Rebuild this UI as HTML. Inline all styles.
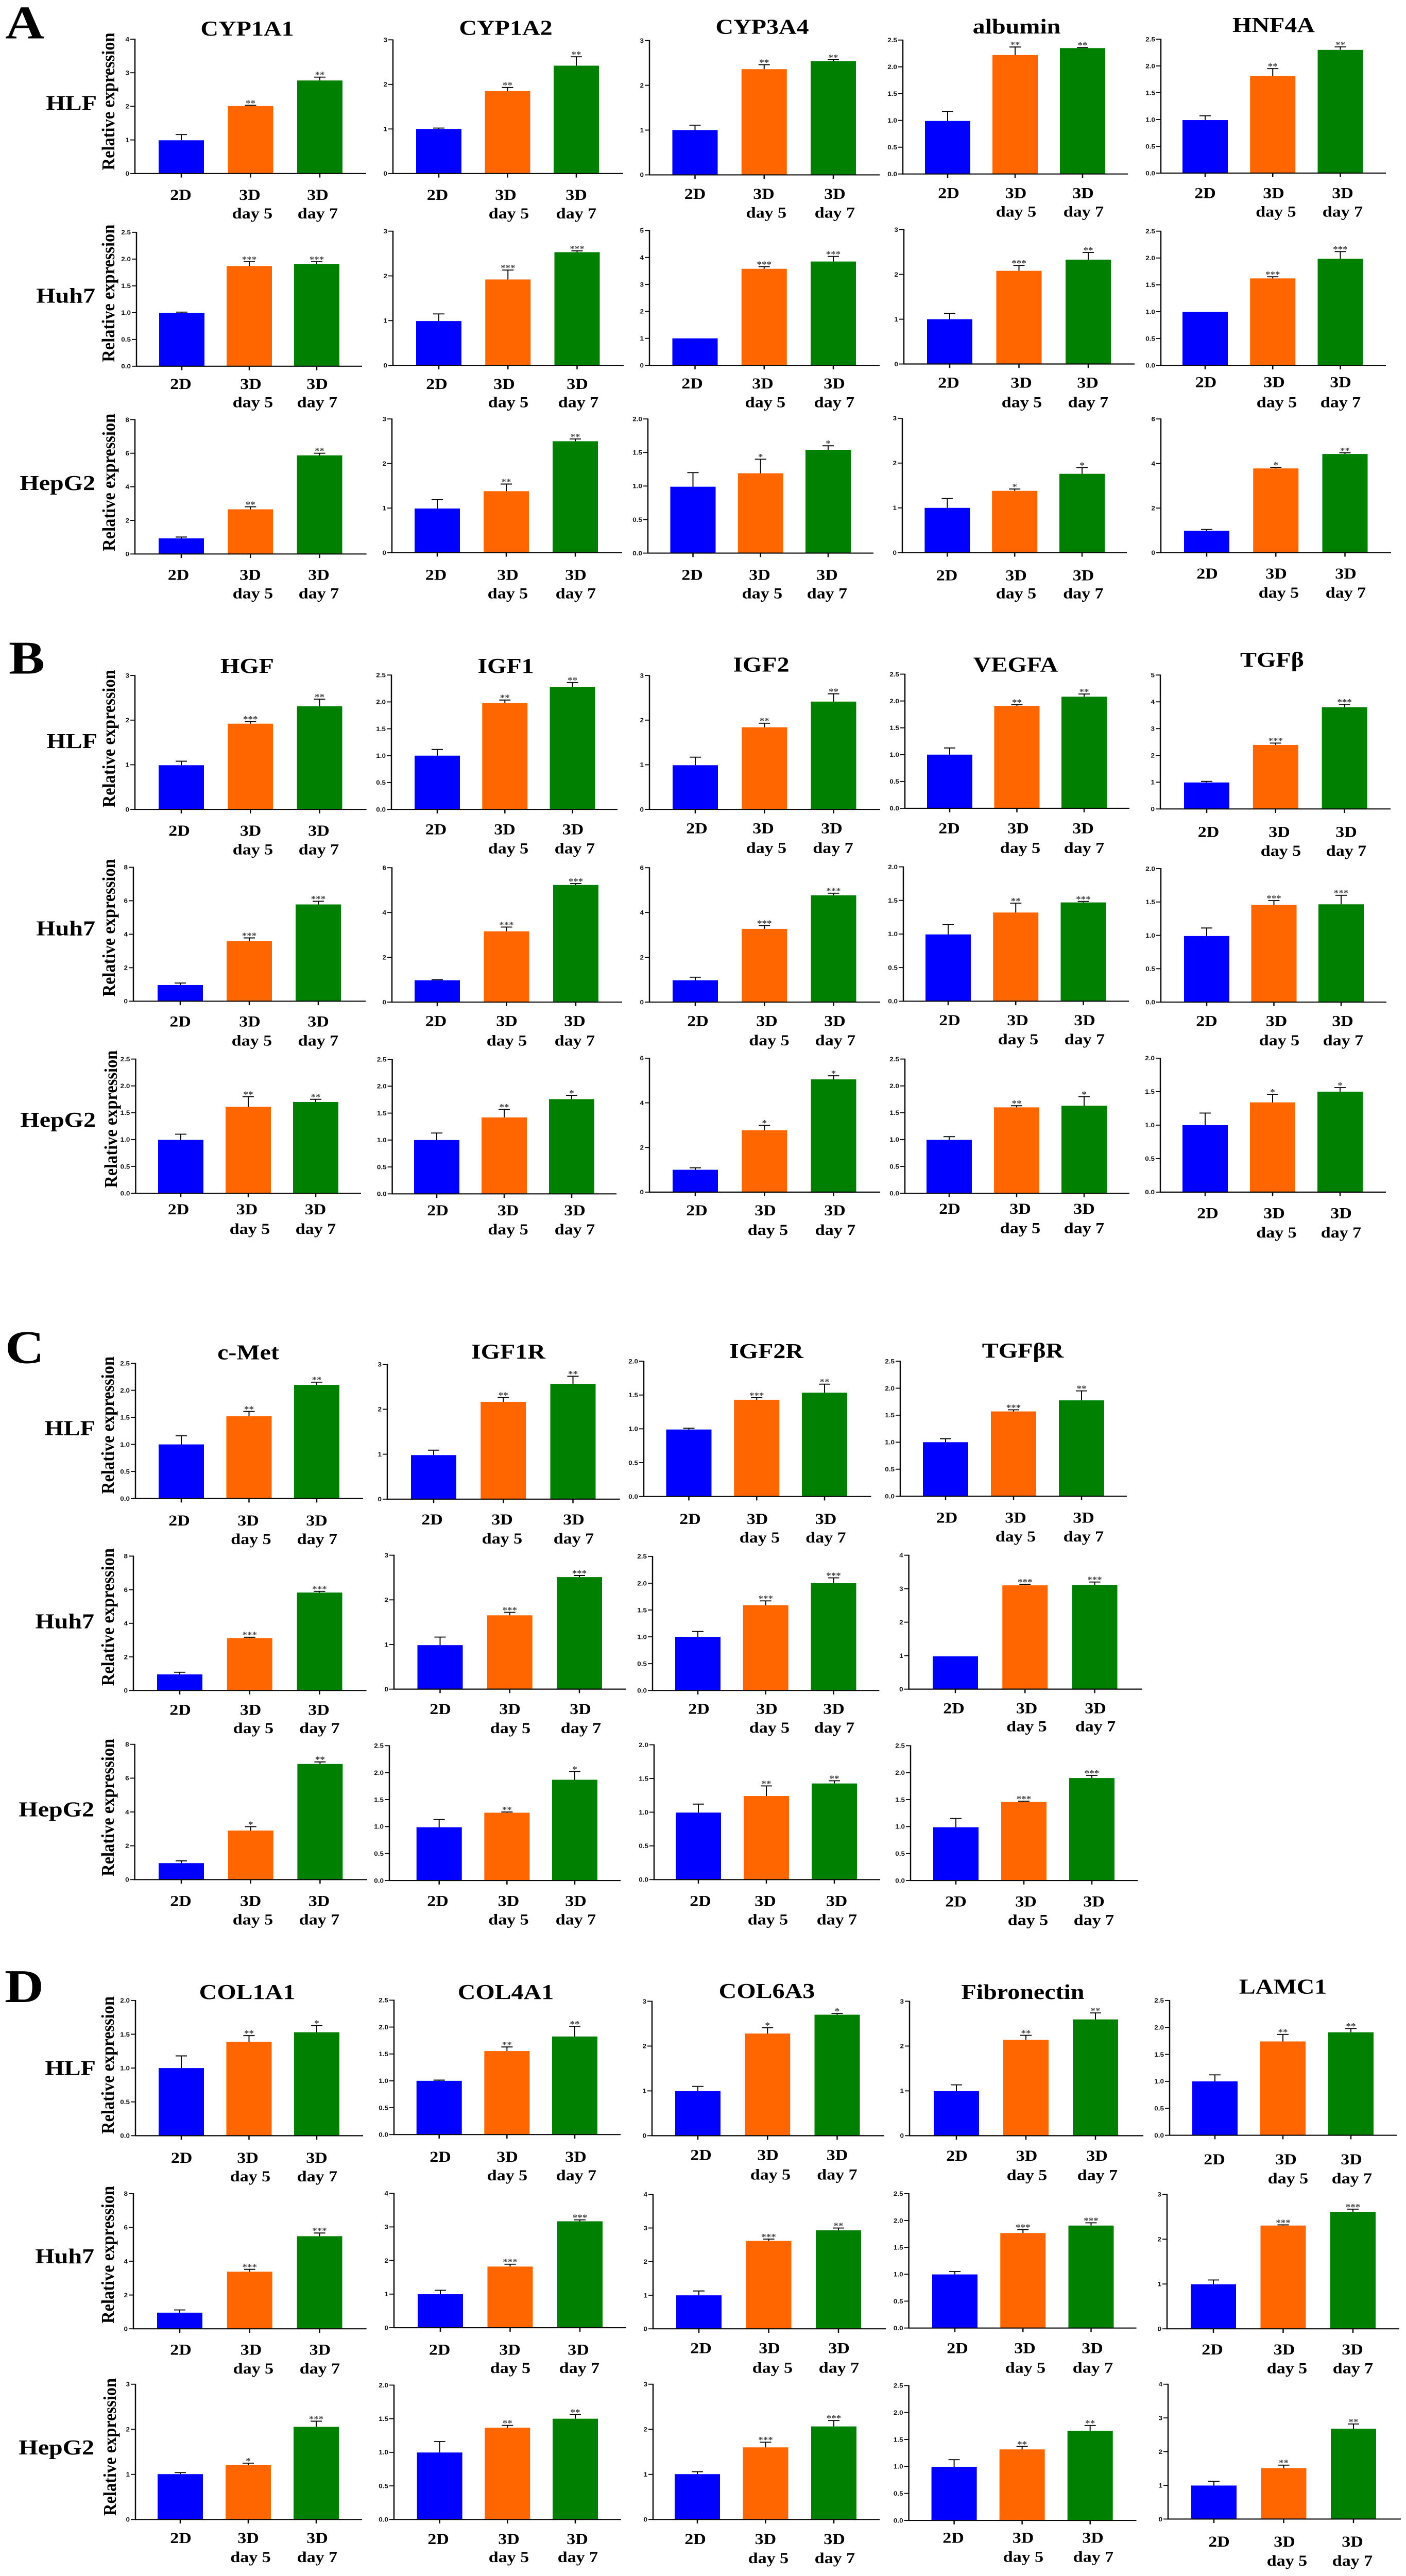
<!DOCTYPE html>
<html lang="en">
<head>
<meta charset="utf-8">
<title>Relative expression in HLF, Huh7 and HepG2 cells</title>
<!-- The SVG fills the viewport instead of using a fixed 5789px height. At a 2730x5789 viewport the coordinates are
     exact. The observed render viewport was about 5000px tall, which clipped a fixed layout, so here the figure
     is squeezed vertically to fit. -->
<style>
  html, body { margin: 0; padding: 0; background: #fff; width: 100%; height: 100%; overflow: hidden; }
  #figure { display: block; width: 100vw; height: 100vh; overflow: hidden; }
  .serif { font-family: "Liberation Serif", serif; font-weight: bold; fill: #000; }
  .letter { font-size: 105px; }
  .gene { font-size: 48px; text-anchor: middle; }
  .cell { font-size: 48px; text-anchor: end; }
  .ytitle { font-size: 35px; text-anchor: middle; }
</style>
</head>
<body>
<svg id="figure" xmlns="http://www.w3.org/2000/svg" viewBox="0 0 2730 5789" preserveAspectRatio="none">
  <rect x="0" y="0" width="2730" height="5789" fill="#fff"/>

  <text class="serif letter" x="10" y="86">A</text>
  <text class="serif letter" x="17" y="1514">B</text>
  <text class="serif letter" x="10" y="3063">C</text>
  <text class="serif letter" x="9" y="4499">D</text>

  <text class="serif gene" x="480" y="80">CYP1A1</text>
  <text class="serif gene" x="982" y="78">CYP1A2</text>
  <text class="serif gene" x="1480" y="76">CYP3A4</text>
  <text class="serif gene" x="1974" y="75">albumin</text>
  <text class="serif gene" x="2473" y="72">HNF4A</text>

  <text class="serif gene" x="480" y="1512">HGF</text>
  <text class="serif gene" x="982" y="1512">IGF1</text>
  <text class="serif gene" x="1478" y="1509">IGF2</text>
  <text class="serif gene" x="1972" y="1509">VEGFA</text>
  <text class="serif gene" x="2470" y="1498">TGFβ</text>

  <text class="serif gene" x="482" y="3055">c-Met</text>
  <text class="serif gene" x="987" y="3053">IGF1R</text>
  <text class="serif gene" x="1488" y="3052">IGF2R</text>
  <text class="serif gene" x="1986" y="3051">TGFβR</text>

  <text class="serif gene" x="480" y="4492">COL1A1</text>
  <text class="serif gene" x="982" y="4492">COL4A1</text>
  <text class="serif gene" x="1489" y="4490">COL6A3</text>
  <text class="serif gene" x="1986" y="4492">Fibronectin</text>
  <text class="serif gene" x="2491" y="4480">LAMC1</text>

  <text class="serif cell" x="188" y="247">HLF</text>
  <text class="serif cell" x="185" y="680">Huh7</text>
  <text class="serif cell" x="185" y="1101">HepG2</text>
  <text class="serif cell" x="189" y="1681">HLF</text>
  <text class="serif cell" x="185" y="2102">Huh7</text>
  <text class="serif cell" x="186" y="2532">HepG2</text>
  <text class="serif cell" x="185" y="3225">HLF</text>
  <text class="serif cell" x="183" y="3659">Huh7</text>
  <text class="serif cell" x="183" y="4082">HepG2</text>
  <text class="serif cell" x="186" y="4663">HLF</text>
  <text class="serif cell" x="183" y="5086">Huh7</text>
  <text class="serif cell" x="183" y="5516">HepG2</text>

  <text class="serif ytitle" transform="translate(222 228) rotate(-90)" textLength="309" lengthAdjust="spacingAndGlyphs">Relative expression</text>
  <text class="serif ytitle" transform="translate(222 659) rotate(-90)" textLength="309" lengthAdjust="spacingAndGlyphs">Relative expression</text>
  <text class="serif ytitle" transform="translate(223 1084) rotate(-90)" textLength="309" lengthAdjust="spacingAndGlyphs">Relative expression</text>
  <text class="serif ytitle" transform="translate(223 1660) rotate(-90)" textLength="309" lengthAdjust="spacingAndGlyphs">Relative expression</text>
  <text class="serif ytitle" transform="translate(223 2085) rotate(-90)" textLength="309" lengthAdjust="spacingAndGlyphs">Relative expression</text>
  <text class="serif ytitle" transform="translate(227 2515) rotate(-90)" textLength="309" lengthAdjust="spacingAndGlyphs">Relative expression</text>
  <text class="serif ytitle" transform="translate(221 3203) rotate(-90)" textLength="309" lengthAdjust="spacingAndGlyphs">Relative expression</text>
  <text class="serif ytitle" transform="translate(221 3634) rotate(-90)" textLength="309" lengthAdjust="spacingAndGlyphs">Relative expression</text>
  <text class="serif ytitle" transform="translate(221 4062) rotate(-90)" textLength="309" lengthAdjust="spacingAndGlyphs">Relative expression</text>
  <text class="serif ytitle" transform="translate(221 4641) rotate(-90)" textLength="309" lengthAdjust="spacingAndGlyphs">Relative expression</text>
  <text class="serif ytitle" transform="translate(221 5067) rotate(-90)" textLength="309" lengthAdjust="spacingAndGlyphs">Relative expression</text>
  <text class="serif ytitle" transform="translate(225 5499) rotate(-90)" textLength="309" lengthAdjust="spacingAndGlyphs">Relative expression</text>

  <g id="panels"></g>
</svg>

<script>
// ---- Data: one entry per panel, read left to right, top to bottom ----
const categoryLine1 = ['2D', '3D', '3D'];
const categoryLine2 = ['', 'day 5', 'day 7'];
const seriesColors = ['#0000ff', '#ff6600', '#008000'];

const panelGenes = [
  'CYP1A1','CYP1A2','CYP3A4','albumin','HNF4A',
  'CYP1A1','CYP1A2','CYP3A4','albumin','HNF4A',
  'CYP1A1','CYP1A2','CYP3A4','albumin','HNF4A',
  'HGF','IGF1','IGF2','VEGFA','TGFb',
  'HGF','IGF1','IGF2','VEGFA','TGFb',
  'HGF','IGF1','IGF2','VEGFA','TGFb',
  'c-Met','IGF1R','IGF2R','TGFbR',
  'c-Met','IGF1R','IGF2R','TGFbR',
  'c-Met','IGF1R','IGF2R','TGFbR',
  'COL1A1','COL4A1','COL6A3','Fibronectin','LAMC1',
  'COL1A1','COL4A1','COL6A3','Fibronectin','LAMC1',
  'COL1A1','COL4A1','COL6A3','Fibronectin','LAMC1'
];

const panelMeans = [
  [.99,2.01,2.77],[1.0,1.85,2.42],[1.0,2.36,2.54],[.99,2.22,2.35],[.99,1.81,2.30],
  [.995,1.87,1.91],[.99,1.92,2.53],[1.0,3.58,3.85],[1.0,2.08,2.33],[.995,1.62,1.985],
  [.93,2.66,5.87],[.99,1.38,2.5],[.99,1.19,1.54],[1.0,1.38,1.76],[.98,3.78,4.43],
  [.99,1.92,2.31],[1.0,1.98,2.28],[.99,1.84,2.415],[1.0,1.91,2.08],[.99,2.39,3.8],
  [.966,3.61,5.78],[.975,3.16,5.23],[.975,3.27,4.77],[.994,1.32,1.47],[.99,1.456,1.465],
  [.994,1.61,1.70],[1.0,1.42,1.76],[1.0,2.77,5.05],[.994,1.6,1.63],[1.0,1.34,1.5],
  [1.0,1.52,2.1],[.98,2.165,2.565],[.99,1.43,1.535],[1.0,1.57,1.775],
  [.957,3.12,5.83],[.986,1.654,2.51],[1.0,1.59,2.0],[.98,3.1,3.11],
  [.975,2.9,6.84],[.987,1.257,1.868],[.994,1.24,1.426],[.987,1.456,1.9],
  [1.0,1.39,1.53],[1.0,1.554,1.825],[.994,2.28,2.7],[.994,2.14,2.595],[1.0,1.74,1.91],
  [.956,3.38,5.48],[.997,1.82,3.167],[.997,2.616,2.93],[.997,1.767,1.906],[.994,2.305,2.61],
  [1.006,1.207,2.055],[.997,1.367,1.5],[1.006,1.6,2.064],[.994,1.316,1.66],[.994,1.51,2.68]
];

const panelErrors = [
  [.17,.02,.10],[.02,.08,.20],[.11,.10,.03],[.18,.15,.01],[.08,.14,.055],
  [.015,.08,.04],[.16,.21,.03],[0,.08,.19],[.13,.12,.16],[0,.03,.135],
  [.08,.15,.13],[.2,.16,.05],[.21,.21,.06],[.21,.04,.14],[.06,.05,.05],
  [.09,.05,.16],[.115,.055,.08],[.18,.09,.175],[.125,.02,.05],[.04,.07,.11],
  [.12,.17,.19],[.025,.19,.06],[.135,.15,.09],[.15,.14,.015],[.12,.065,.135],
  [.106,.19,.05],[.13,.15,.07],[.09,.22,.16],[.06,.03,.17],[.18,.12,.06],
  [.16,.09,.05],[.11,.095,.17],[.02,.03,.125],[.065,.03,.175],
  [.13,.05,.07],[.18,.066,.036],[.1,.08,.1],[0,.03,.09],
  [.135,.23,.12],[.143,.013,.152],[.126,.15,.04],[.163,.014,.05],
  [.18,.09,.1],[.013,.076,.19],[.106,.13,.03],[.14,.1,.145],[.12,.13,.07],
  [.16,.14,.19],[.117,.07,.043],[.129,.054,.07],[.053,.063,.051],[.096,.015,.06],
  [.034,.043,.125],[.163,.033,.06],[.054,.114,.131],[.132,.054,.1],[.126,.09,.14]
];

const panelStars = [
  ['**','**'],['**','**'],['**','**'],['**','**'],['**','**'],
  ['***','***'],['***','***'],['***','***'],['***','**'],['***','***'],
  ['**','**'],['**','**'],['*','*'],['*','*'],['*','**'],
  ['***','**'],['**','**'],['**','**'],['**','**'],['***','***'],
  ['***','***'],['***','***'],['***','***'],['**','***'],['***','***'],
  ['**','**'],['**','*'],['*','*'],['**','*'],['*','*'],
  ['**','**'],['**','**'],['***','**'],['***','**'],
  ['***','***'],['***','***'],['***','***'],['***','***'],
  ['*','**'],['**','*'],['**','**'],['***','***'],
  ['**','*'],['**','**'],['*','*'],['**','**'],['**','**'],
  ['***','***'],['***','***'],['***','**'],['***','***'],['***','***'],
  ['*','***'],['**','**'],['***','***'],['**','**'],['**','**']
];

const panelYMax = [
  4,3,3,2.5,2.5,
  2.5,3,5,3,2.5,
  8,3,2,3,6,
  3,2.5,3,2.5,5,
  8,6,6,2,2,
  2.5,2.5,6,2.5,2,
  2.5,3,2,2.5,
  8,3,2.5,4,
  8,2.5,2,2.5,
  2,2.5,3,3,2.5,
  8,4,4,2.5,3,
  3,2,3,2.5,4
];

const panelYStep = [
  1,1,1,.5,.5,
  .5,1,1,1,.5,
  2,1,.5,1,2,
  1,.5,1,.5,1,
  2,2,2,.5,.5,
  .5,.5,2,.5,.5,
  .5,1,.5,.5,
  2,1,.5,1,
  2,.5,.5,.5,
  .5,.5,1,1,.5,
  2,1,1,.5,1,
  1,.5,1,.5,1
];

// ---- Layout: plot frames [axisX, top, baseline, rightEnd, firstBandCentre, lastBandCentre] ----
const panelFrames = [
  [262,88,390,711,352,621],[763,89.5,390,1210,852,1119],[1261,91,393,1708,1349.5,1618],[1753,90,391,2190,1840,2102],[2254,88,389,2691,2340,2602.5],
  [265,522,823,703,353,615],[763,519.5,821,1211,852,1120.5],[1261,518,821,1708,1349.5,1618],[1755,516,818,2203,1844,2113],[2254,519.5,821,2691,2340,2602.5],
  [262,943,1245,711.6,352,620.5],[761,941.5,1242,1208,849,1117],[1258,941.5,1243,1696,1345.5,1608],[1752,940,1242,2188,1839.4,2101],[2254,941.5,1242,2701,2343,2611.5],
  [262,1518,1819,711.6,352,620.5],[760,1517,1819,1199,849,1111.6],[1261,1518,1819,1709,1350,1618.5],[1757,1515,1816.5,2193,1844,2105],[2253,1517,1818,2700,2343,2610.6],
  [259,1949,2250,710,350,618],[761,1950,2252,1208,849,1118],[1261,1950,2252,1709,1350,1618.5],[1754,1948,2250,2192,1841,2103.5],[2254,1952,2252,2692,2343,2604],
  [263.4,2380,2681.5,701,351,613],[761.6,2380.5,2683,1197,848,1110],[1261,2378,2679,1709,1350,1618.5],[1757,2380,2681.5,2193,1843,2105],[2253,2378,2679,2691,2340,2602],
  [263,3063.6,3367.6,705,352,615],[752,3066,3369,1203.6,842,1112.5],[1250,3059,3363,1691.5,1337.5,1601],[1748,3059,3362.4,2188,1836,2100],
  [259,3497,3799,711.6,349,620.5],[765,3495,3796,1216,854.5,1125],[1267,3497.6,3799,1707.4,1355,1618.5],[1764.6,3495,3796,2217,1855,2125.5],
  [261.6,3920,4224,713,352,621.4],[756,3923,4226,1205,852.7,1116],[1270,3921,4224,1709,1356,1620],[1768,3923,4226,2209,1856,2120],
  [263,4495.6,4799.5,705,352,615],[765,4495,4797,1205,852.7,1116],[1266,4497.4,4799.5,1717,1355,1625.5],[1766,4497.4,4799.5,2220,1857,2127],[2271,4495.6,4798.6,2712,2359,2623],
  [259,4929.7,5233.5,711.6,349,620.5],[765,4929,5231,1216,855,1126],[1268,4931.4,5233.5,1720,1357,1628],[1764.6,4929.7,5231.7,2206.5,1854,2118.5],[2266,4931.4,5233.5,2717,2356,2627],
  [263,5358,5662,703,350,614],[765,5360,5662,1206,853.6,1117],[1268,5358,5662,1708,1354,1619],[1764.6,5361,5664,2206.5,1852.6,2116.7],[2268,5358,5661,2720,2357,2628]
];

// Layout: category label anchors [x2D, x3D-a, xDay5, x3D-b, xDay7, line1Baseline, line2Baseline]
const labelAnchors = [
  [351,485,490,617,617,449,491],[849.5,982,988,1119,1119,449,491],[1349.5,1483,1488,1621,1621,447,489],[1842,1972.5,1973,2103,2104,445,487],[2340,2473,2477.5,2607,2607,445,487],
  [351,487,491,616,616,874,915],[848,979,987,1121,1123,874,915],[1344,1481,1486,1620,1620,873,915],[1842,1983,1984,2112,2113,871.5,915],[2341.5,2474,2479,2603,2603,870,915],
  [346.5,486,491,619,619,1303,1344.5],[846.5,986,986,1118,1118,1303,1345],[1344,1475,1480,1606,1606,1303,1344.5],[1838.5,1973,1973,2103.5,2103.5,1304,1345],[2344,2478,2483,2613,2613,1300.5,1343],
  [348,486.6,491,619,619,1878,1920],[846.5,980,987,1112.5,1116,1875,1918],[1353,1482,1488,1615,1617.6,1872.5,1917],[1843,1977,1981,2103,2105,1872.5,1917],[2346.5,2484,2487,2614,2614,1881,1923],
  [350,485,489,618,618,2307,2350],[846.5,984,984,1116,1116,2306,2350],[1355,1489,1493.5,1621,1622,2306,2349],[1844,1976,1977,2106,2106,2304,2347],[2343,2478.5,2484,2607,2608,2306,2349],
  [346.5,479.5,485,612.5,613,2729,2773],[850,986.6,986.6,1116,1116,2731,2774],[1353,1486,1491,1621,1622,2731,2775],[1844,1981,1981,2105,2105,2728,2771],[2345,2474,2478.5,2604,2604,2737.6,2781],
  [348,482,487.5,615,616,3428,3470],[839,975,975,1114,1114,3426,3469],[1340,1470.6,1475,1603.5,1603.5,3425,3466.6],[1838.5,1972,1972,2104,2104,3422,3464],
  [350,486.6,492,619,620.5,3854,3895],[855,990,991,1127,1128,3852,3895],[1357,1489,1494,1619,1620,3851.5,3893.6],[1852,1993.5,1993.5,2127,2127,3850,3891],
  [351,486.6,491,619.6,620,4283,4325],[850,987.5,987.5,1118,1118,4283,4325],[1360,1486,1491,1624.6,1625,4283,4325],[1856,1992,1996,2124,2124,4284.5,4326],
  [352.7,481,486,615,616,4860.6,4902],[855,985,985,1118,1119,4858,4900],[1361,1491,1496,1625.5,1625.5,4854,4898],[1858,1993.5,1994,2130,2131,4856,4899],[2358,2497,2501,2624,2625,4864,4906.6],
  [351,487.5,492,621.4,621,5292,5334],[853.6,990,991,1123,1125,5292,5333],[1361,1494,1500,1629,1629,5288,5332],[1859,1990,1991,2121,2122,5288,5332],[2354,2493.5,2499,2626,2627,5291,5333.6],
  [351,482,486.6,616,616,5715,5758],[851,988,988,1121,1122,5717,5758],[1350,1486.4,1492,1620,1621,5717,5760],[1851,1986.5,1987,2122,2123,5714.4,5757],[2367,2494,2499,2626,2626,5723,5766]
];

const BAR_WIDTH = 88;
const CAP_WIDTH = 22;
const AXIS_COLOR = '#0a0a0a';
const SERIF = '"Liberation Serif", serif';
const SANS = '"Liberation Sans", sans-serif';
const SVG_NS = 'http://www.w3.org/2000/svg';
const root = document.getElementById('panels');

function svgEl(tag, attrs, parent) {
  const el = document.createElementNS(SVG_NS, tag);
  for (const key in attrs) el.setAttribute(key, attrs[key]);
  parent.appendChild(el);
  return el;
}

function yScale(frame, yMax) {
  const top = frame[1], base = frame[2];
  return function (v) { return base - (v / yMax) * (base - top); };
}

function xCentre(frame, i) {
  return frame[4] + i * (frame[5] - frame[4]) / 2;
}

function drawPanel(p) {
  const frame = panelFrames[p];
  const anchors = labelAnchors[p];
  const y = yScale(frame, panelYMax[p]);
  const L = frame[0], T = frame[1], B = frame[2], R = frame[3];

  const g = svgEl('g', {}, root);
  
  

  panelMeans[p].forEach(function (mean, i) {
    const cx = xCentre(frame, i);
    const yTop = y(mean);
    const bar = svgEl('rect', { x: cx - BAR_WIDTH / 2, y: yTop, width: BAR_WIDTH, height: B - yTop, fill: seriesColors[i] }, g);
    
    

    const err = panelErrors[p][i];
    const yErr = y(mean + err);
    if (err > 0) {
      const stem = svgEl('line', { x1: cx, x2: cx, y1: yTop, y2: yErr, stroke: AXIS_COLOR, 'stroke-width': 2 }, g);
      
      

      const cap = svgEl('line', { x1: cx - CAP_WIDTH / 2, x2: cx + CAP_WIDTH / 2, y1: yErr, y2: yErr, stroke: AXIS_COLOR, 'stroke-width': 2.2 }, g);
      
      
    }

    if (i > 0) {
      const star = svgEl('text', { x: cx, y: yErr + 1, 'text-anchor': 'middle', 'font-family': SERIF, 'font-weight': 'bold', 'font-size': 19, fill: '#444' }, g);
      
      
      star.textContent = panelStars[p][i - 1];
    }

    const tick = svgEl('line', { x1: cx, x2: cx, y1: B, y2: B + 9, stroke: AXIS_COLOR, 'stroke-width': 2.5 }, g);
    
    

    const line1X = i === 0 ? anchors[0] : (i === 1 ? anchors[1] : anchors[3]);
    const label1 = svgEl('text', { x: line1X, y: anchors[5], 'text-anchor': 'middle', 'font-family': SERIF, 'font-weight': 'bold', 'font-size': 34, fill: '#000' }, g);
    
    
    label1.textContent = categoryLine1[i];

    if (categoryLine2[i]) {
      const line2X = i === 1 ? anchors[2] : anchors[4];
      const label2 = svgEl('text', { x: line2X, y: anchors[6], 'text-anchor': 'middle', 'font-family': SERIF, 'font-weight': 'bold', 'font-size': 34, fill: '#000' }, g);
      
      
      label2.textContent = categoryLine2[i];
    }
  });

  const yAxis = svgEl('line', { x1: L, x2: L, y1: T - 1, y2: B + 1, stroke: AXIS_COLOR, 'stroke-width': 2.5 }, g);
  
  

  const xAxis = svgEl('line', { x1: L - 1, x2: R, y1: B, y2: B, stroke: AXIS_COLOR, 'stroke-width': 2.5 }, g);
  
  

  const step = panelYStep[p];
  const count = Math.round(panelYMax[p] / step);
  for (let k = 0; k <= count; k++) {
    const value = k * step;
    const yTick = y(value);
    const tick = svgEl('line', { x1: L - 9, x2: L, y1: yTick, y2: yTick, stroke: AXIS_COLOR, 'stroke-width': 2.2 }, g);
    
    

    const text = svgEl('text', { x: L - 11, y: yTick + 5, 'text-anchor': 'end', 'font-family': SANS, 'font-weight': 'bold', 'font-size': 13.5, fill: '#111' }, g);
    
    
    text.textContent = value.toFixed(step < 1 ? 1 : 0);
  }
}

panelMeans.forEach(function (_, p) { drawPanel(p); });
</script>
</body>
</html>
